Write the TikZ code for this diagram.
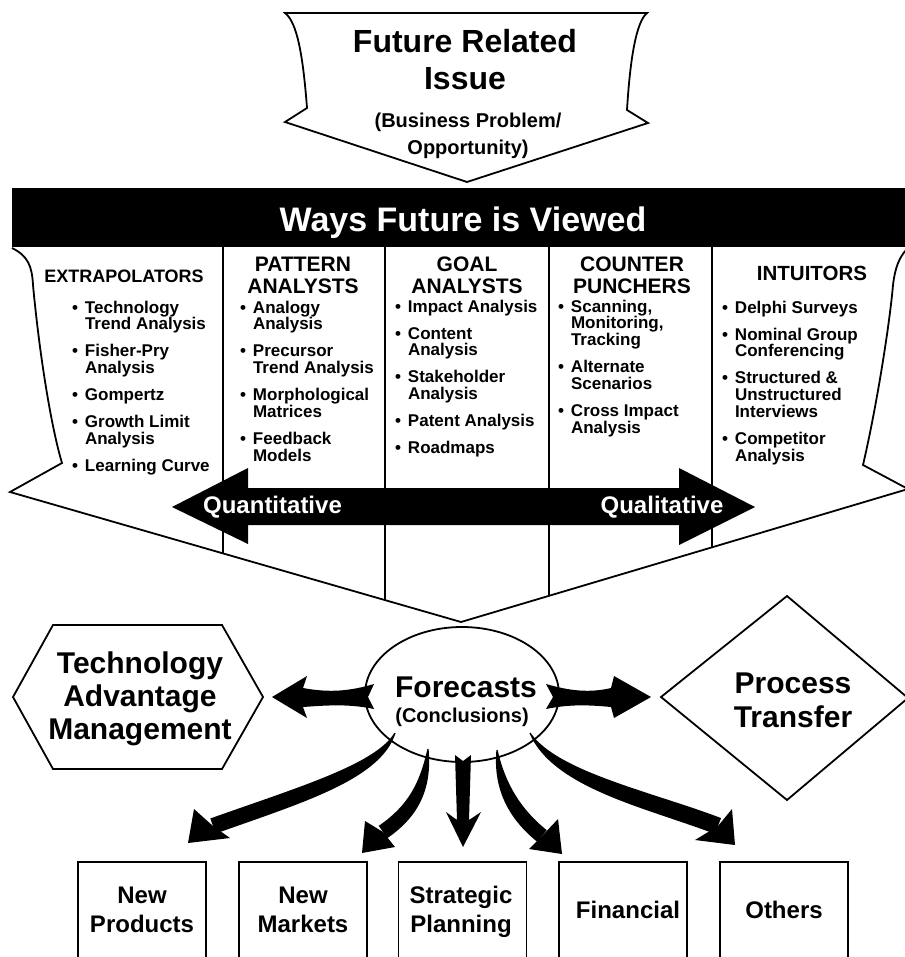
\documentclass[tikz,border=0pt]{standalone}
\usepackage{fontspec}
\setmainfont{Liberation Sans}
\usetikzlibrary{calc,shapes.geometric}
\tikzset{
  outl/.style={draw=black, line width=1.8pt, line join=miter},
  divider/.style={draw=black, line width=2.2pt},
  lbl/.style={inner sep=0pt, outer sep=0pt, anchor=base},
  lblw/.style={inner sep=0pt, outer sep=0pt, anchor=base west},
  boxnode/.style={draw, line width=1.8pt, minimum width=128pt, minimum height=110pt, inner sep=0pt, anchor=north},
  fcnode/.style={draw, line width=1.8pt, ellipse, minimum width=194pt, minimum height=135pt, inner sep=0pt}
}
\newcommand\fz[2]{\fontsize{#1}{#2}\selectfont\bfseries}
\newcommand\bul{\leavevmode\llap{\textbullet\hspace{7pt}}}
% #1 start, #2 c1, #3 c2, #4 end of shaft, #5 half width, #6 tip, #7 barb, #8 barb
\newcommand\fatarrow[8]{%
  \path (#1) coordinate (fa-s) (#2) coordinate (fa-c1) (#3) coordinate (fa-c2) (#4) coordinate (fa-e);
  \fill ($(fa-s)!0.6pt!90:(fa-c1)$) .. controls ($(fa-c1)!#5!90:(fa-c2)$) and ($(fa-c2)!#5!90:(fa-e)$) .. ($(fa-e)!#5!-90:(fa-c2)$)
     -- ($(fa-e)!#5!90:(fa-c2)$) .. controls ($(fa-c2)!#5!-90:(fa-e)$) and ($(fa-c1)!#5!-90:(fa-c2)$) .. ($(fa-s)!0.6pt!-90:(fa-c1)$) -- cycle;
  \fill (fa-e) -- (#7) -- (#6) -- (#8) -- cycle;
}
\begin{document}
\begin{tikzpicture}[x=1pt,y=-1pt]
\useasboundingbox (0,0) rectangle (904,957);

% ---------- top shape ----------
\draw[outl, fill=white] (285,13) -- (647,13) .. controls (636,22) and (630,60) .. (627,110) -- (648,123) -- (467,182)
   -- (285,122) -- (307,108) .. controls (303,55) and (297,22) .. (285,13) -- cycle;
\node[lbl] (fri) at (465,53) {\parbox[t]{320pt}{\centering\fz{32}{37}Future Related\\Issue}};
\node[lbl] (bpo) at (468,128) {\parbox[t]{260pt}{\centering\fz{20}{27}(Business Problem/\\Opportunity)}};

% ---------- lower big shape ----------
\draw[outl, fill=white] (12,248) .. controls (28,256) and (32,266) .. (33,285) .. controls (40,360) and (52,430) .. (62,463)
   -- (10,492) -- (461,622) -- (908,489) -- (863,465) .. controls (878,400) and (890,320) .. (893,285)
   .. controls (895,268) and (899,258) .. (906,250);

% ---------- bar ----------
\fill[black] (12,188) rectangle (910,247);
\node[lbl, text=white] (ways) at (463,232) {\fz{34}{40}Ways Future is Viewed};

% dividers
\draw[divider] (223,247) -- (223,553.4);
\draw[divider] (385,247) -- (385,600.1);
\draw[divider] (549,247) -- (549,595.9);
\draw[divider] (712,247) -- (712,547.6);

% headings
\node[lbl] (h1) at (124,283) {\fz{18}{20}EXTRAPOLATORS};
\node[lbl] (h2) at (303,272) {\parbox[t]{150pt}{\centering\fz{21}{21}PATTERN\\ANALYSTS}};
\node[lbl] (h3) at (467,272) {\parbox[t]{150pt}{\centering\fz{21}{21}GOAL\\ANALYSTS}};
\node[lbl] (h4) at (632,272) {\parbox[t]{150pt}{\centering\fz{21}{21}COUNTER\\PUNCHERS}};
\node[lbl] (h5) at (812,280) {\fz{20.5}{21}INTUITORS};

% lists
\node[lblw] (l1) at (85,313) {\parbox[t]{135pt}{\raggedright\fz{17}{16.8}%
\bul Technology\\Trend Analysis\\[10.2pt]\bul Fisher-Pry\\Analysis\\[10.2pt]\bul Gompertz\\[10.2pt]\bul Growth Limit\\Analysis\\[10.2pt]\bul Learning Curve}};
\node[lblw] (l2) at (253,313) {\parbox[t]{130pt}{\raggedright\fz{17}{16.8}%
\bul Analogy\\Analysis\\[10.2pt]\bul Precursor\\Trend Analysis\\[10.2pt]\bul Morphological\\Matrices\\[10.2pt]\bul Feedback\\Models}};
\node[lblw] (l3) at (408,312) {\parbox[t]{140pt}{\raggedright\fz{17}{16.8}%
\bul Impact Analysis\\[10.2pt]\bul Content\\Analysis\\[10.2pt]\bul Stakeholder\\Analysis\\[10.2pt]\bul Patent Analysis\\[10.2pt]\bul Roadmaps}};
\node[lblw] (l4) at (571,312) {\parbox[t]{135pt}{\raggedright\fz{17}{16.8}%
\bul Scanning,\\Monitoring,\\Tracking\\[10.2pt]\bul Alternate\\Scenarios\\[10.2pt]\bul Cross Impact\\Analysis}};
\node[lblw] (l5) at (735,313) {\parbox[t]{160pt}{\raggedright\fz{17}{16.8}%
\bul Delphi Surveys\\[10.2pt]\bul Nominal Group\\Conferencing\\[10.2pt]\bul Structured \&\\Unstructured\\Interviews\\[10.2pt]\bul Competitor\\Analysis}};

% quantitative / qualitative double arrow
\fill[black] (172,507) -- (248,468) -- (248,488) -- (679,488) -- (679,468) -- (755,507) -- (679,545) -- (679,525)
   -- (248,525) -- (248,544) -- cycle;
\node[lbl, text=white] (qn) at (272.5,513) {\fz{24}{24}Quantitative};
\node[lbl, text=white] (ql) at (662,513) {\fz{24}{24}Qualitative};

% ---------- lower part ----------
\node[fcnode] (fc) at (462,694.5) {};
\node[lbl] (fct) at (466,697) {\fz{30}{30}Forecasts};
\node[lbl] (fcc) at (462,722) {\fz{20}{20}(Conclusions)};

% hexagon
\draw[outl] (53,625) -- (222,625) -- (263,697) coordinate (tam) -- (222,769) -- (53,769) -- (13,697) -- cycle;
\node[lbl] (tamt) at (140,673) {\parbox[t]{230pt}{\centering\fz{30}{33}Technology\\Advantage\\Management}};

% diamond
\draw[outl] (787,596) -- (908,698) -- (787,800) -- (661,697) coordinate (ptr) -- cycle;
\node[lbl] (ptt) at (793,693) {\parbox[t]{200pt}{\centering\fz{30}{34}Process\\Transfer}};

% horizontal double arrows
\fill ($(tam)+(9,0)$) -- (307,676) -- (303,688) .. controls (330,693) and (350,691) .. (374,684) -- (368,697)
   -- (374,709) .. controls (350,704) and (330,705) .. (303,707) -- (307,718) -- cycle;
\fill ($(ptr)+(-10,0)$) -- (614,676) -- (611,688) .. controls (590,693) and (570,691) .. (546,684) -- (553,697)
   -- (546,709) .. controls (570,704) and (590,705) .. (611,707) -- (614,718) -- cycle;

% boxes
\node[boxnode] (np) at (142,861) {};
\node[boxnode] (nm) at (303,861) {};
\node[boxnode] (sp) at (462.5,861) {};
\node[boxnode] (fi) at (623,861) {};
\node[boxnode] (ot) at (784,861) {};
\node[lbl] (npt) at (142,903) {\parbox[t]{120pt}{\centering\fz{24}{29}New\\Products}};
\node[lbl] (nmt) at (303,903) {\parbox[t]{120pt}{\centering\fz{24}{29}New\\Markets}};
\node[lbl] (spt) at (461,903) {\parbox[t]{120pt}{\centering\fz{24}{29}Strategic\\Planning}};
\node[lbl] (fit) at (628,918) {\fz{24}{29}Financial};
\node[lbl] (ott) at (784,918) {\fz{24}{29}Others};

% start and tip points of the fat arrows
\coordinate (s1) at ($(fc.center)+(-67,38.5)$);
\coordinate (s2) at ($(fc.center)+(-34,54.5)$);
\coordinate (s4) at ($(fc.center)+(35,55.5)$);
\coordinate (s5) at ($(fc.center)+(68,38.5)$);
\coordinate (t1) at ($(np.north)+(46,-18)$);
\coordinate (t2) at ($(nm.north)+(59,-8)$);
\coordinate (t3) at ($(sp.north)+(0.5,-14)$);
\coordinate (t4) at ($(fi.north)+(-61,-7)$);
\coordinate (t5) at ($(ot.north)+(-49,-16)$);

\fatarrow{s1}{378,772}{300,795}{213,826}{8pt}{t1}{194,809}{230,838}
\fatarrow{s2}{426,788}{412,812}{383,832}{7.5pt}{t2}{365,821}{395,847}
\fatarrow{s4}{499,788}{516,815}{542,836}{7.5pt}{t4}{558,819}{529,849}
\fatarrow{s5}{555,780}{650,800}{718,826}{8.5pt}{t5}{732,809}{695,840}
\fill (455,755) -- (463,761) -- (471,755) -- (469,820) -- (481,812) -- (t3) -- (446,812) -- (457,820) -- cycle;

\end{tikzpicture}
\end{document}
